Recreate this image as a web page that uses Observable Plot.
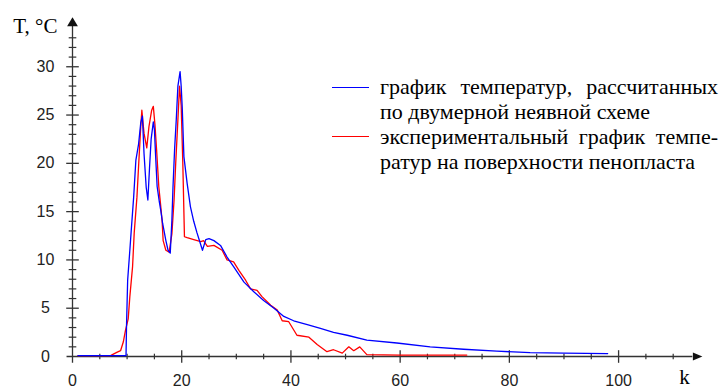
<!DOCTYPE html>
<html>
<head>
<meta charset="utf-8">
<script src="https://cdn.jsdelivr.net/npm/d3@7"></script>
<script src="https://cdn.jsdelivr.net/npm/@observablehq/plot@0.6"></script>
<style>
  html, body { margin: 0; padding: 0; background: #fff; }
  #wrap { position: relative; width: 723px; height: 388px; }
  .leg { position: absolute; font-family: "Liberation Serif", Tinos, "Times New Roman", "DejaVu Serif", serif; font-size: 22px; line-height: 25px; color: #000; white-space: nowrap; }
  .just { width: 338px; text-align: justify; text-align-last: justify; white-space: normal; }
  .sw { position: absolute; height: 1.4px; width: 37px; }
</style>
</head>
<body>
<div id="wrap"></div>
<script>
// Blue: temperatures computed by 2D implicit scheme
const blueK = [1, 5, 9.8, 9.9, 10.1, 10.5, 10.8, 11.2, 11.6, 12.1, 12.5, 12.8, 13.1, 13.5, 13.8, 14.1, 14.4, 14.8, 15.0, 15.2, 15.5, 15.9, 16.2, 16.5, 17.1, 17.5, 17.9, 18.2, 18.4, 18.7, 19.0, 19.3, 19.7, 19.9, 20.1, 20.4, 21.0, 21.6, 22.2, 22.8, 23.3, 23.8, 24.4, 25.0, 25.9, 27.1, 28.3, 29.5, 31.4, 33.2, 35.0, 36.9, 38.7, 40.5, 43.0, 45.4, 47.8, 50.3, 53.9, 59.4, 65.5, 71.6, 77.7, 83.8, 90.0, 98.0];
const blueT = [0.1, 0.1, 0.1, 3.4, 7.9, 11.0, 13.4, 16.5, 20.3, 22.0, 24.2, 24.9, 21.0, 17.5, 16.2, 19.5, 22.5, 24.3, 23.5, 21.0, 17.6, 16.0, 15.0, 13.8, 12.0, 11.0, 10.7, 14.1, 17.5, 21.5, 24.5, 28.0, 29.5, 28.0, 25.7, 20.7, 17.9, 15.5, 14.0, 12.8, 11.9, 11.0, 12.1, 12.2, 12.0, 11.5, 10.3, 9.3, 7.7, 6.7, 5.8, 5.0, 4.15, 3.7, 3.3, 2.9, 2.5, 2.2, 1.7, 1.4, 1.0, 0.75, 0.55, 0.4, 0.35, 0.3];

// Red: experimental temperature on the foam surface
const redK = [1, 7, 7.3, 8.2, 8.8, 9.3, 9.7, 10.2, 10.5, 11.0, 11.3, 11.8, 12.1, 12.5, 12.7, 13.1, 13.6, 14.0, 14.5, 14.8, 15.1, 15.4, 15.8, 16.1, 16.4, 16.6, 17.1, 17.7, 18.2, 18.6, 18.9, 19.3, 19.6, 19.9, 20.2, 20.5, 21.0, 22.2, 23.5, 24.0, 24.7, 25.9, 27.4, 28.3, 29.5, 30.5, 31.7, 32.6, 33.8, 34.7, 36.3, 37.5, 38.4, 39.6, 41.1, 43.3, 44.8, 46.6, 47.8, 49.4, 50.6, 51.5, 52.6, 53.9, 60.0, 72.2];
const redT = [0.1, 0.1, 0.2, 0.45, 0.6, 1.5, 2.7, 3.9, 6.2, 9.3, 12.8, 16.5, 19.7, 23.8, 25.5, 23.1, 21.6, 23.8, 25.5, 25.9, 24.0, 21.4, 17.6, 15.9, 14.1, 12.0, 11.0, 10.8, 12.7, 16.2, 20.0, 24.5, 28.0, 26.0, 20.0, 12.4, 12.3, 12.1, 11.9, 12.0, 11.4, 11.5, 11.0, 10.0, 9.8, 8.9, 7.9, 7.0, 6.85, 6.2, 5.3, 4.8, 3.7, 3.6, 2.2, 2.0, 1.25, 0.5, 0.7, 0.35, 1.0, 0.6, 1.0, 0.2, 0.15, 0.15];

const xLabels = [0, 20, 40, 60, 80, 100];
const xMinor = [5, 10, 15, 25, 30, 35, 45, 50, 55, 65, 70, 75, 85, 90, 95, 105, 110];
const xMajor = [20, 40, 60, 80, 100];
const yLabels = [0, 5, 10, 15, 20, 25, 30];
const yMajor = [5, 10, 15, 20, 25, 30];
const yMinor = [1,2,3,4,6,7,8,9,11,12,13,14,16,17,18,19,21,22,23,24,26,27,28,29,31,32,33];

const legendRows = [
  "график температур, рассчитанных",
  "по двумерной неявной схеме",
  "экспериментальный график темпе-",
  "ратур на поверхности пенопласта"
];

const serif = "'Liberation Serif', Tinos, 'Times New Roman', 'DejaVu Serif', serif";
const sans = "'Liberation Sans', Arimo, Arial, sans-serif";
const axisColor = "#333";
const vtick = {draw(ctx, size) { const r = Math.sqrt(size / Math.PI); ctx.moveTo(0, -r); ctx.lineTo(0, r); }};
const htick = {draw(ctx, size) { const r = Math.sqrt(size / Math.PI); ctx.moveTo(-r, 0); ctx.lineTo(r, 0); }};
const arrowUp = {draw(ctx, size) { const r = Math.sqrt(size / Math.PI); ctx.moveTo(0, -r); ctx.lineTo(0.6 * r, 0); ctx.lineTo(-0.6 * r, 0); ctx.closePath(); }};
const arrowRight = {draw(ctx, size) { const r = Math.sqrt(size / Math.PI); ctx.moveTo(r, 0); ctx.lineTo(0, 0.42 * r); ctx.lineTo(0, -0.42 * r); ctx.closePath(); }};

const chart = Plot.plot({
  width: 723,
  height: 388,
  marginLeft: 72,
  marginRight: 23,
  marginTop: 17,
  marginBottom: 32,
  x: {domain: [0, 115], axis: null},
  y: {domain: [0, 35.1], axis: null},
  style: {background: "#fff", overflow: "visible"},
  marks: [
    Plot.ruleY([0], {x1: -1, x2: 113.6, stroke: axisColor, strokeWidth: 1.3}),
    Plot.ruleX([0], {y1: -0.7, y2: 34.2, stroke: axisColor, strokeWidth: 1.3}),
    Plot.dot(xMinor, {x: d => d, y: 0, symbol: vtick, r: 2.8, stroke: axisColor, fill: "none", strokeWidth: 1.2}),
    Plot.dot(xMajor, {x: d => d, y: 0, symbol: vtick, r: 6.3, stroke: axisColor, fill: "none", strokeWidth: 1.3}),
    Plot.dot(yMinor, {x: 0, y: d => d, symbol: htick, r: 3.8, stroke: axisColor, fill: "none", strokeWidth: 1.2}),
    Plot.dot(yMajor, {x: 0, y: d => d, symbol: htick, r: 6.3, stroke: axisColor, fill: "none", strokeWidth: 1.3}),
    Plot.dot([34.2], {x: 0, y: d => d, symbol: arrowUp, r: 9, fill: "#111", stroke: "none"}),
    Plot.dot([113.6], {x: d => d, y: 0, symbol: arrowRight, r: 9.5, fill: "#111", stroke: "none"}),
    Plot.text(xLabels, {x: d => d, y: 0, dy: 24, text: d => String(d), fontSize: 16, fontFamily: sans, fill: "#222", lineAnchor: "middle"}),
    Plot.text(yLabels, {x: 0, y: d => d, dx: -27, text: d => String(d), fontSize: 16, fontFamily: sans, fill: "#222", textAnchor: "middle", lineAnchor: "middle"}),
    Plot.text(["T, °C"], {frameAnchor: "top-left", dx: -15, dy: 9, text: d => d, textAnchor: "end", lineAnchor: "middle", fontSize: 21, fontFamily: serif, fill: "#000"}),
    Plot.text(["k"], {frameAnchor: "bottom-right", dx: -16, dy: 21, text: d => d, textAnchor: "middle", lineAnchor: "middle", fontSize: 21, fontFamily: serif, fill: "#000"}),
    Plot.line(redK, {x: redK, y: redT, stroke: "#ff0000", strokeWidth: 1.3}),
    Plot.line(blueK, {x: blueK, y: blueT, stroke: "#0000ff", strokeWidth: 1.3})
  ]
});

const wrap = document.getElementById("wrap");
wrap.appendChild(chart);

const sw1 = document.createElement("div");
sw1.className = "sw"; sw1.style.left = "332px"; sw1.style.top = "87px"; sw1.style.background = "#0000ff";
wrap.appendChild(sw1);
const sw2 = document.createElement("div");
sw2.className = "sw"; sw2.style.left = "332px"; sw2.style.top = "135.5px"; sw2.style.background = "#ff0000";
wrap.appendChild(sw2);

legendRows.forEach((t, i) => {
  const d = document.createElement("div");
  d.className = "leg" + (i % 2 === 0 ? " just" : "");
  d.style.left = "380px";
  d.style.top = (74.4 + 25 * i) + "px";
  d.textContent = t;
  wrap.appendChild(d);
});
</script>
</body>
</html>
